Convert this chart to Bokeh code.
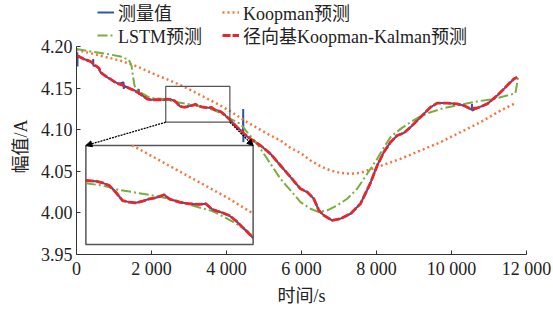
import math
from bokeh.plotting import figure
from bokeh.models import (Range1d, FixedTicker, CustomJSTickFormatter, Legend,
                          LegendItem, Arrow, NormalHead, Title)
from bokeh.embed import file_html
from bokeh.resources import INLINE

# ---------------- data ----------------
x_ticks = [0, 2000, 4000, 6000, 8000, 10000, 12000]
x_tick_labels = ["0", "2 000", "4 000", "6 000", "8 000", "10 000", "12 000"]
y_ticks = [3.95, 4.00, 4.05, 4.10, 4.15, 4.20]
y_tick_labels = ["3.95", "4.00", "4.05", "4.10", "4.15", "4.20"]

# measured (测量值)
meas_t = [20, 25, 30, 195, 373, 440, 445, 450, 507, 600, 640, 730, 819, 900, 995,
          1130, 1255, 1260, 1265, 1440, 1560, 1619, 1660, 1665, 1670, 1795, 1880,
          1973, 2150, 2328, 2380, 2482, 2551, 2619, 2686, 2755, 2823, 2891, 2959,
          3028, 3095, 3181, 3232, 3334, 3436, 3538, 3606, 3674, 3776, 3845, 3912,
          3981, 4049, 4107, 4285, 4440, 4445, 4450, 4455, 4640, 4907, 5173, 5440,
          5707, 5973, 6152, 6328, 6462, 6595, 6818, 7040, 7307, 7573, 7840, 8019,
          8195, 8373, 8552, 8728, 8907, 9085, 9262, 9440, 9619, 9885, 10152, 10328,
          10461, 10540, 10545, 10550, 10685, 10952, 11219, 11485, 11661, 11752]
meas_v = [4.193, 4.176, 4.189, 4.185, 4.182, 4.180, 4.185, 4.177, 4.177, 4.174,
          4.169, 4.166, 4.163, 4.161, 4.158, 4.155, 4.157, 4.149, 4.153, 4.149,
          4.147, 4.145, 4.149, 4.142, 4.144, 4.140, 4.137, 4.136, 4.136, 4.136,
          4.1368, 4.1365, 4.1358, 4.1346, 4.1317, 4.1281, 4.1274, 4.1271, 4.1278,
          4.1288, 4.1293, 4.1306, 4.1288, 4.1274, 4.1267, 4.1264, 4.1267, 4.1242,
          4.1228, 4.1216, 4.1194, 4.1165, 4.1137, 4.111, 4.103, 4.097, 4.125,
          4.085, 4.095, 4.089, 4.081, 4.071, 4.057, 4.043, 4.029, 4.025, 4.017,
          4.003, 3.997, 3.991, 3.993, 3.999, 4.011, 4.036, 4.057, 4.073, 4.085,
          4.093, 4.096, 4.103, 4.111, 4.119, 4.127, 4.132, 4.132, 4.131, 4.129,
          4.126, 4.124, 4.131, 4.123, 4.126, 4.131, 4.141, 4.153, 4.161, 4.163]

# RBF Koopman-Kalman (径向基Koopman-Kalman预测)
kal_t = [20, 195, 373, 507, 600, 640, 730, 819, 900, 995, 1130, 1260, 1440, 1560,
         1619, 1665, 1795, 1880, 1973, 2150, 2328, 2380, 2482, 2551, 2619, 2686,
         2755, 2823, 2891, 2959, 3028, 3095, 3181, 3232, 3334, 3436, 3538, 3606,
         3674, 3776, 3845, 3912, 3981, 4049, 4107, 4285, 4450, 4640, 4907, 5173,
         5440, 5707, 5973, 6152, 6328, 6462, 6595, 6818, 7040, 7307, 7573, 7840,
         8019, 8195, 8373, 8552, 8728, 8907, 9085, 9262, 9440, 9619, 9885, 10152,
         10328, 10461, 10545, 10685, 10952, 11219, 11485, 11661, 11752]
kal_v = [4.189, 4.185, 4.182, 4.177, 4.174, 4.169, 4.166, 4.163, 4.161, 4.158,
         4.155, 4.153, 4.149, 4.147, 4.145, 4.144, 4.140, 4.137, 4.136, 4.136,
         4.136, 4.1368, 4.1365, 4.1358, 4.1346, 4.1317, 4.1281, 4.1274, 4.1271,
         4.1278, 4.1288, 4.1293, 4.1306, 4.1288, 4.1274, 4.1267, 4.1264, 4.1267,
         4.1242, 4.1228, 4.1216, 4.1194, 4.1165, 4.1137, 4.111, 4.103, 4.096,
         4.089, 4.081, 4.071, 4.057, 4.043, 4.029, 4.025, 4.017, 4.003, 3.997,
         3.991, 3.993, 3.999, 4.011, 4.036, 4.057, 4.073, 4.085, 4.093, 4.096,
         4.103, 4.111, 4.119, 4.127, 4.132, 4.132, 4.131, 4.129, 4.126, 4.126,
         4.126, 4.131, 4.141, 4.153, 4.161, 4.163]

# LSTM (LSTM预测)
lstm_t = [0, 373, 819, 1173, 1395, 1467, 1511, 1547, 1618, 1973, 2329, 2380, 2551,
          2721, 2925, 3130, 3299, 3504, 3674, 3810, 3947, 4049, 4373, 4551, 4818,
          5173, 5440, 5707, 5973, 6240, 6462, 6685, 6952, 7219, 7485, 7752, 8019,
          8200, 8373, 8640, 8907, 9173, 9440, 9795, 10240, 10685, 11128, 11485,
          11707, 11768, 11795]
lstm_v = [4.197, 4.194, 4.191, 4.188, 4.184, 4.177, 4.163, 4.153, 4.147, 4.138,
          4.137, 4.1356, 4.1346, 4.1327, 4.1313, 4.1298, 4.1281, 4.1255, 4.1235,
          4.1206, 4.1173, 4.1143, 4.107, 4.097, 4.083, 4.059, 4.041, 4.027, 4.013,
          4.005, 4.001, 4.003, 4.009, 4.017, 4.029, 4.047, 4.065, 4.079, 4.091,
          4.101, 4.109, 4.116, 4.121, 4.126, 4.130, 4.134, 4.137, 4.141, 4.144,
          4.161, 4.165]

# Koopman (Koopman预测)
koop_t = [0, 640, 1170, 1620, 2060, 2500, 2900, 3370, 3840, 4107, 4551, 4862, 5173,
          5440, 5707, 5973, 6240, 6507, 6773, 7040, 7307, 7573, 7752, 8019, 8640,
          9173, 9707, 10240, 10773, 11307, 11707]
koop_v = [4.196, 4.189, 4.183, 4.176, 4.167, 4.159, 4.151, 4.140, 4.129, 4.122,
          4.109, 4.101, 4.093, 4.087, 4.078, 4.072, 4.063, 4.056, 4.051, 4.048,
          4.047, 4.048, 4.051, 4.055, 4.065, 4.075, 4.085, 4.097, 4.109, 4.123,
          4.132]

# zoom window (rectangle) and where its magnified view is placed (data units)
ZOOM_T = (2380, 4090)
ZOOM_V = (4.109, 4.152)
INSET_T = (250, 4710)
INSET_V = (3.962, 4.081)

# ---------------- styles ----------------
FONT = "'Liberation Serif', 'Noto Sans CJK SC', serif"
BLUE = "#3556A6"
RED = "#E8262B"
GREEN = "#78AE41"
ORANGE = "#F4773C"
TXT = "#222222"

W, H = 553, 312
FRAME_L, FRAME_R, FRAME_B = 76, 27, 58
Y_LO, Y_HI = 3.95, 4.20
Y_TOP_PX = 46  # pixel row of the 4.20 tick; frame extends to the top for the legend


def lb_clip(x0, y0, x1, y1, xmin, xmax, ymin, ymax):
    dx, dy = x1 - x0, y1 - y0
    u0, u1 = 0.0, 1.0
    for pp, qq in ((-dx, x0 - xmin), (dx, xmax - x0), (-dy, y0 - ymin), (dy, ymax - y0)):
        if pp == 0:
            if qq < 0:
                return None
        else:
            r = qq / pp
            if pp < 0:
                u0 = max(u0, r)
            else:
                u1 = min(u1, r)
    if u0 > u1:
        return None
    return (x0 + u0 * dx, y0 + u0 * dy, x0 + u1 * dx, y0 + u1 * dy)


def to_inset(ts, vs):
    (t0, t1), (v0, v1) = ZOOM_T, ZOOM_V
    (a0, a1), (b0, b1) = INSET_T, INSET_V
    xs, ys = [], []
    for i in range(len(ts) - 1):
        seg = lb_clip(ts[i], vs[i], ts[i + 1], vs[i + 1], t0, t1, v0, v1)
        if seg is None:
            continue
        px, py, qx, qy = seg
        if xs and not math.isnan(xs[-1]) and abs(xs[-1] - px) < 1e-6 and abs(ys[-1] - py) < 1e-9:
            xs.append(qx); ys.append(qy)
        else:
            if xs:
                xs.append(float("nan")); ys.append(float("nan"))
            xs += [px, qx]; ys += [py, qy]
    sx = (a1 - a0) / (t1 - t0)
    sy = (b1 - b0) / (v1 - v0)
    X = [a0 + (x - t0) * sx if not math.isnan(x) else x for x in xs]
    Y = [b0 + (y - v0) * sy if not math.isnan(y) else y for y in ys]
    return X, Y


frame_h = H - FRAME_B
y_end = Y_LO + (Y_HI - Y_LO) * frame_h / (frame_h - Y_TOP_PX)

p = figure(width=W, height=H, output_backend="svg", toolbar_location=None,
           x_range=Range1d(0, 12000), y_range=Range1d(Y_LO, y_end),
           min_border_left=FRAME_L, min_border_right=FRAME_R, min_border_top=0,
           min_border_bottom=FRAME_B)
p.outline_line_color = None
p.grid.visible = False

fmt_code = """
for (let i = 0; i < tv.length; i++) { if (Math.abs(tv[i] - tick) < 1e-7) return tl[i]; }
return '';
"""
p.xaxis.ticker = FixedTicker(ticks=x_ticks)
p.xaxis.formatter = CustomJSTickFormatter(args=dict(tv=x_ticks, tl=x_tick_labels), code=fmt_code)
p.yaxis.ticker = FixedTicker(ticks=y_ticks)
p.yaxis.formatter = CustomJSTickFormatter(args=dict(tv=y_ticks, tl=y_tick_labels), code=fmt_code)
p.yaxis.bounds = (Y_LO, Y_HI)
p.xaxis.axis_label = "时间/s"
for ax in (p.xaxis, p.yaxis):
    ax.major_tick_in = 4
    ax.major_tick_out = 0
    ax.minor_tick_line_color = None
    ax.axis_line_color = "#333333"
    ax.major_tick_line_color = "#333333"
    ax.major_label_text_font = FONT
    ax.major_label_text_font_size = "18px"
    ax.major_label_text_color = TXT
    ax.axis_label_text_font = FONT
    ax.axis_label_text_font_size = "18px"
    ax.axis_label_text_font_style = "normal"
    ax.axis_label_text_color = TXT
p.xaxis.major_label_standoff = 4
p.yaxis.major_label_standoff = 4
p.xaxis.axis_label_standoff = 4

# y-axis title, placed along the 3.95-4.20 span (offset measured from the frame bottom)
p.add_layout(Title(text="幅值/A", align="left", offset=81, standoff=14,
                   text_font=FONT, text_font_size="18px", text_font_style="normal",
                   text_color=TXT), "left")

r_meas = p.line(meas_t, meas_v, color=BLUE, line_width=2)
r_koop = p.line(koop_t, koop_v, color=ORANGE, line_width=2.5, line_dash="2 3")
r_lstm = p.line(lstm_t, lstm_v, color=GREEN, line_width=2, line_dash="10 3 2 3")
r_kal = p.line(kal_t, kal_v, color=RED, line_width=2.8, line_dash="8 2")

# zoom rectangle
p.quad(left=[ZOOM_T[0]], right=[ZOOM_T[1]], bottom=[ZOOM_V[0]], top=[ZOOM_V[1]],
       fill_color=None, line_color="#555555", line_width=1.2)
# inset frame
p.quad(left=[INSET_T[0]], right=[INSET_T[1]], bottom=[INSET_V[0]], top=[INSET_V[1]],
       fill_color="white", line_color="#555555", line_width=1.5)

xi, yi = to_inset(koop_t, koop_v)
p.line(xi, yi, color=ORANGE, line_width=2.5, line_dash="2 3")
xi, yi = to_inset(lstm_t, lstm_v)
p.line(xi, yi, color=GREEN, line_width=2, line_dash="10 3 2 3")
xi, yi = to_inset(meas_t, meas_v)
p.line(xi, yi, color=BLUE, line_width=2)
xi, yi = to_inset(kal_t, kal_v)
p.line(xi, yi, color=RED, line_width=2.8, line_dash="8 2")

for (xs_, ys_, xe_, ye_) in ((ZOOM_T[0], ZOOM_V[0], INSET_T[0], INSET_V[1]),
                             (ZOOM_T[1], ZOOM_V[0], INSET_T[1], INSET_V[1])):
    p.add_layout(Arrow(end=NormalHead(size=6, fill_color="black", line_color="black",
                                      line_width=1),
                       x_start=xs_, y_start=ys_, x_end=xe_, y_end=ye_,
                       line_color="black", line_width=1.3, line_dash="2 1"))


def make_legend(items, loc):
    return Legend(items=items, location=loc, orientation="horizontal",
                  padding=0, margin=0, spacing=0, label_width=104,
                  glyph_width=17, glyph_height=20, label_height=20,
                  label_standoff=4, background_fill_alpha=0,
                  border_line_color=None, label_text_font=FONT,
                  label_text_font_size="18px", label_text_color=TXT)


leg1 = make_legend([LegendItem(label="测量值", renderers=[r_meas]),
                    LegendItem(label="Koopman预测", renderers=[r_koop])], (21, 229))
leg2 = make_legend([LegendItem(label="LSTM预测", renderers=[r_lstm]),
                    LegendItem(label="径向基Koopman-Kalman预测", renderers=[r_kal])], (21, 206))
p.add_layout(leg1, "center")
p.add_layout(leg2, "center")

open("out.html", "w").write(file_html(p, INLINE))
